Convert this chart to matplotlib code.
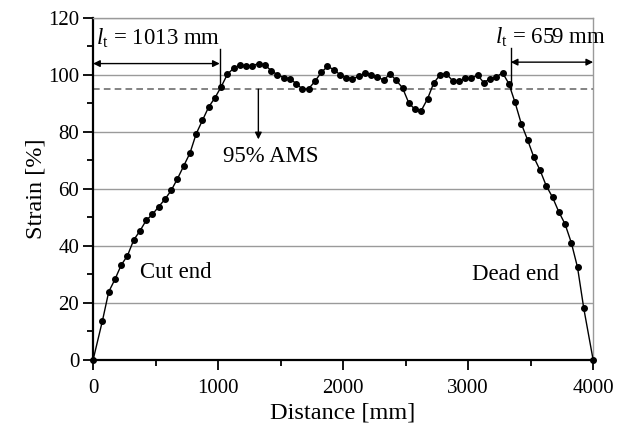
import numpy as np
import matplotlib
matplotlib.use("Agg")
import matplotlib.pyplot as plt
from matplotlib.ticker import MultipleLocator

#------------------------------------------------------------------------------------
# Data
distance = [0,
            75, 125, 175, 225, 275, 325, 375, 425, 475, 525,
            575, 625, 675, 725, 775, 825, 875, 925, 975, 1025,
            1075, 1125, 1175, 1225, 1275, 1325, 1375, 1425, 1475, 1525,
            1575, 1625, 1675, 1725, 1775, 1825, 1875, 1925, 1975, 2025,
            2075, 2125, 2175, 2225, 2275, 2325, 2375, 2425, 2475, 2525,
            2575, 2625, 2675, 2725, 2775, 2825, 2875, 2925, 2975, 3025,
            3075, 3125, 3175, 3225, 3275, 3325, 3375, 3425, 3475, 3525,
            3575, 3625, 3675, 3725, 3775, 3825, 3875, 3925,
            4000]
strain = [0,
          13.8, 23.9, 28.3, 33.3, 36.6, 42.1, 45.3, 49.0, 51.1, 53.8,
          56.4, 59.5, 63.6, 68.1, 72.6, 79.4, 84.1, 88.8, 92.0, 95.9,
          100.3, 102.4, 103.5, 103.1, 103.3, 104.0, 103.5, 101.5, 100.1, 99.1,
          98.6, 97.0, 95.0, 95.2, 97.8, 100.9, 103.0, 101.9, 100.1, 99.1,
          98.7, 99.5, 100.7, 100.1, 99.3, 98.2, 100.4, 98.1, 95.5, 90.2,
          87.9, 87.5, 91.6, 97.2, 100.0, 100.5, 98.0, 97.8, 98.8, 98.8,
          100.0, 97.3, 98.7, 99.3, 100.8, 97.0, 90.4, 82.9, 77.3, 71.2,
          66.6, 61.1, 57.1, 52.0, 47.7, 41.2, 32.5, 18.1,
          0]

ams_level = 95
lt_cut = 1013
lt_dead = 659
length = 4000

#------------------------------------------------------------------------------------
# Style
plt.rcParams['font.family'] = 'Liberation Serif'
plt.rcParams['mathtext.fontset'] = 'custom'
plt.rcParams['mathtext.rm'] = 'Liberation Serif'
plt.rcParams['mathtext.it'] = 'Liberation Serif:italic'

fig = plt.figure(figsize=(6.29, 4.28), dpi=100)
ax = fig.add_axes([0.148, 0.159, 0.795, 0.799])

# grid lines
for g in range(20, 121, 20):
    ax.axhline(g, color='#9a9a9a', lw=1.0, zorder=1)
ax.axhline(ams_level, color='#6e6e6e', lw=1.2, dashes=(4, 2.5), zorder=1)

ax.plot(distance, strain, color='black', lw=1.0, marker='o', ms=4.0,
        clip_on=False, zorder=3)

ax.set_xlim(0, length)
ax.set_ylim(0, 120)
ax.xaxis.set_major_locator(MultipleLocator(1000))
ax.xaxis.set_minor_locator(MultipleLocator(500))
ax.yaxis.set_major_locator(MultipleLocator(20))
ax.yaxis.set_minor_locator(MultipleLocator(10))
ax.tick_params(which='major', direction='out', length=7, width=1.3, labelsize=15, pad=3)
ax.tick_params(which='minor', direction='out', length=4.5, width=1.3)
ax.tick_params(axis='x', pad=7)

for s in ('left', 'bottom'):
    ax.spines[s].set_linewidth(1.6)
    ax.spines[s].set_color('black')
for s in ('right', 'top'):
    ax.spines[s].set_linewidth(1.0)
    ax.spines[s].set_color('#9a9a9a')

ax.set_xlabel('Distance [mm]', fontsize=17.5, labelpad=3)
ax.set_ylabel('Strain [%]', fontsize=17.5, labelpad=1)

#------------------------------------------------------------------------------------
# Transfer length annotations
arrow = dict(arrowstyle='<|-|>', color='black', lw=1.0, mutation_scale=10,
             shrinkA=0, shrinkB=0)
ax.annotate('', xy=(0, 104), xytext=(lt_cut, 104), arrowprops=arrow, annotation_clip=False)
ax.plot([lt_cut, lt_cut], [ams_level, 109], color='black', lw=1.0, zorder=2)
ax.text(25, 110.5, r'$\mathit{l}_{\mathrm{t}}$ = 1013 mm', fontsize=16.5,
        ha='left', va='baseline')

ax.annotate('', xy=(length - lt_dead, 104.5), xytext=(length, 104.5), arrowprops=arrow,
            annotation_clip=False)
ax.plot([length - lt_dead, length - lt_dead], [ams_level, 109.5], color='black', lw=1.0, zorder=2)
ax.text(3216, 111, r'$\mathit{l}_{\mathrm{t}}$ = 659 mm', fontsize=16.5,
        ha='left', va='baseline', clip_on=False)

ax.annotate('', xy=(1322, 77.4), xytext=(1322, ams_level),
            arrowprops=dict(arrowstyle='-|>', color='black', lw=1.0, mutation_scale=10,
                            shrinkA=0, shrinkB=0))
ax.text(1420, 69.6, '95% AMS', fontsize=16.4, ha='center', va='baseline')

ax.text(662, 28.7, 'Cut end', fontsize=16.4, ha='center', va='baseline')
ax.text(3376, 28.1, 'Dead end', fontsize=16.4, ha='center', va='baseline')

fig.savefig('out.png', dpi=100)
